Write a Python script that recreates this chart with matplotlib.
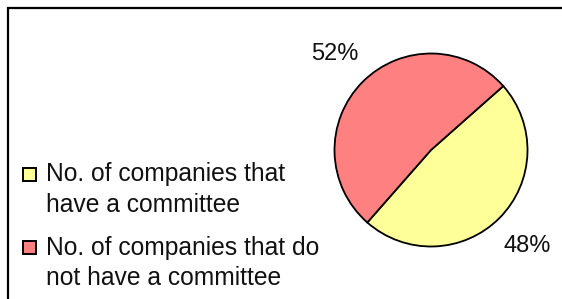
import matplotlib.pyplot as plt
from matplotlib.patches import Rectangle

plt.rcParams["font.family"] = ["Liberation Sans", "DejaVu Sans"]

labels = [
    "No. of companies that\nhave a committee",
    "No. of companies that do\nnot have a committee",
]
shares = [48, 52]
colors = ["#FFFF99", "#FF8080"]

W, H = 562, 299
fig = plt.figure(figsize=(W / 100, H / 100), dpi=100)
fig.patch.set_facecolor("white")


def px(x, y):
    # pixel coords (top-left origin) -> figure fraction
    return x / W, 1 - y / H


# outer chart frame (runs off the right and bottom edges)
fig.patches.append(Rectangle((8 / W, -0.1), 1.2, 1 - 8 / H + 0.1,
                             transform=fig.transFigure, fill=False,
                             edgecolor="black", linewidth=1.6))

# pie axes placed in pixels
cx, cy, r = 431, 150, 96.5
ax = fig.add_axes([(cx - r) / W, (H - cy - r) / H, 2 * r / W, 2 * r / H])
wedges, texts, autotexts = ax.pie(
    shares,
    colors=colors,
    startangle=41.5,
    counterclock=False,
    autopct="%.0f%%",
    pctdistance=1.41,
    wedgeprops=dict(edgecolor="black", linewidth=1.3),
    textprops=dict(fontsize=17, color="#111111"),
)
ax.set_xlim(-1, 1)
ax.set_ylim(-1, 1)
ax.set_aspect("equal")
ax.axis("off")

# legend, Excel style: swatch next to the first line of each label
legend_rows = [174, 247]
for lab, col, yc in zip(labels, colors, legend_rows):
    x0, y0 = px(23, yc + 6.5)
    fig.patches.append(Rectangle((x0, y0), 13 / W, 13 / H,
                                 transform=fig.transFigure,
                                 facecolor=col, edgecolor="black",
                                 linewidth=1.4))
    tx, ty = px(46, yc - 11.5)
    fig.text(tx, ty, lab, fontsize=17.7, color="#111111",
             ha="left", va="top", linespacing=1.33)

fig.savefig("out.png", dpi=100, facecolor="white")
